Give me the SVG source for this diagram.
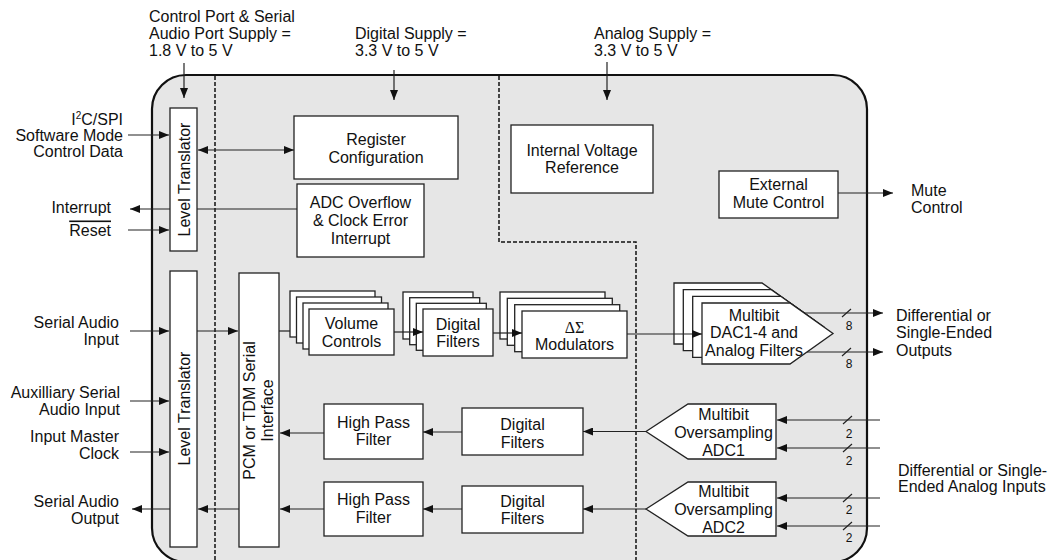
<svg xmlns="http://www.w3.org/2000/svg" xmlns:xlink="http://www.w3.org/1999/xlink" width="1051" height="560" viewBox="0 0 1051 560">
<style>
text{font-family:"Liberation Sans",Arial,sans-serif;font-size:16px;fill:#111}
.m{text-anchor:middle}
.e{text-anchor:end}
.sm{font-size:12px}
.box{fill:#fff;stroke:#222;stroke-width:1.3}
.dash{fill:none;stroke:#111;stroke-width:1.5;stroke-dasharray:4 2}
.c{fill:none;stroke:#222;stroke-width:1.2}
.a{marker-end:url(#ah)}
.d{marker-start:url(#ah);marker-end:url(#ah)}
</style>
<defs>
<marker id="ah" viewBox="0 0 10 8" refX="10" refY="4" markerWidth="10" markerHeight="8" orient="auto-start-reverse" markerUnits="userSpaceOnUse">
<path d="M0,0 L10,4 L0,8 Z" fill="#111"/>
</marker>
<path id="dacp" d="M0,0 H88 L131,30.5 L88,61 H0 Z"/>
</defs>

<g id="chip">
<rect x="152" y="75" width="715" height="487" rx="34" ry="34" fill="#e6e6e6" stroke="#111" stroke-width="2.2"/>
<path class="dash" d="M215,76 V561"/>
<path class="dash" d="M499,76 V242 H636 V561"/>
</g>

<g id="level-translator-top">
<rect class="box" x="170" y="108" width="27" height="143"/>
<text class="m" transform="translate(189.5,179.5) rotate(-90)">Level Translator</text>
</g>
<g id="register-config">
<rect class="box" x="294" y="116" width="164" height="63"/>
<text class="m" x="376" y="145">Register</text>
<text class="m" x="376" y="162.5">Configuration</text>
</g>
<g id="adc-overflow">
<rect class="box" x="297" y="184" width="127" height="73"/>
<text class="m" x="360.5" y="208">ADC Overflow</text>
<text class="m" x="360.5" y="226">&amp; Clock Error</text>
<text class="m" x="360.5" y="244">Interrupt</text>
</g>
<g id="internal-vref">
<rect class="box" x="511" y="125" width="142" height="68"/>
<text class="m" x="582" y="155.5">Internal Voltage</text>
<text class="m" x="582" y="172.5">Reference</text>
</g>
<g id="ext-mute">
<rect class="box" x="719" y="171" width="119" height="47"/>
<text class="m" x="778.5" y="190">External</text>
<text class="m" x="778.5" y="207.5">Mute Control</text>
</g>
<g id="level-translator-bottom">
<rect class="box" x="170" y="271" width="27" height="276"/>
<text class="m" transform="translate(189.5,408.5) rotate(-90)">Level Translator</text>
</g>
<g id="pcm-tdm">
<rect class="box" x="239" y="273" width="40" height="274"/>
<text class="m" transform="translate(255,410.5) rotate(-90)">PCM or TDM Serial</text>
<text class="m" transform="translate(273,410.5) rotate(-90)">Interface</text>
</g>
<g id="volume-controls">
<rect class="box" x="290" y="291" width="85" height="46"/>
<rect class="box" x="296.5" y="297" width="85" height="46"/>
<rect class="box" x="303" y="303" width="85" height="46"/>
<rect class="box" x="309" y="309" width="85" height="46"/>
<text class="m" x="351.5" y="329">Volume</text>
<text class="m" x="351.5" y="346.5">Controls</text>
</g>
<g id="digital-filters-dac">
<rect class="box" x="403" y="292" width="70" height="47"/>
<rect class="box" x="409.7" y="297.7" width="70" height="47"/>
<rect class="box" x="416.3" y="303.3" width="70" height="47"/>
<rect class="box" x="423" y="309" width="70" height="47"/>
<text class="m" x="458" y="329.5">Digital</text>
<text class="m" x="458" y="347">Filters</text>
</g>
<g id="delta-sigma">
<rect class="box" x="500" y="292" width="105" height="47"/>
<rect class="box" x="507.3" y="298.3" width="105" height="47"/>
<rect class="box" x="514.7" y="304.7" width="105" height="47"/>
<rect class="box" x="522" y="311" width="105" height="47"/>
<text class="m" x="574.5" y="333" style="font-family:'Liberation Serif','Times New Roman',serif">ΔΣ</text>
<text class="m" x="574.5" y="349.5">Modulators</text>
</g>
<g id="dac">
<use xlink:href="#dacp" class="box" transform="translate(674,283)"/>
<use xlink:href="#dacp" class="box" transform="translate(683.3,289.7)"/>
<use xlink:href="#dacp" class="box" transform="translate(692.7,296.3)"/>
<use xlink:href="#dacp" class="box" transform="translate(702,303)"/>
<text class="m" x="754" y="320.5">Multibit</text>
<text class="m" x="754" y="338">DAC1-4 and</text>
<text class="m" x="754" y="355.5">Analog Filters</text>
</g>
<g id="hpf1">
<rect class="box" x="324" y="404" width="99" height="55"/>
<text class="m" x="373.5" y="427.5">High Pass</text>
<text class="m" x="373.5" y="445">Filter</text>
</g>
<g id="hpf2">
<rect class="box" x="324" y="482" width="99" height="54"/>
<text class="m" x="373.5" y="505">High Pass</text>
<text class="m" x="373.5" y="522.5">Filter</text>
</g>
<g id="digital-filters-adc1">
<rect class="box" x="462" y="408" width="121" height="47"/>
<text class="m" x="522.5" y="430">Digital</text>
<text class="m" x="522.5" y="447.5">Filters</text>
</g>
<g id="digital-filters-adc2">
<rect class="box" x="462" y="486" width="121" height="47"/>
<text class="m" x="522.5" y="506.5">Digital</text>
<text class="m" x="522.5" y="524">Filters</text>
</g>
<g id="adc1">
<path class="box" d="M646,431.5 L688,404 H776 V459 H688 Z"/>
<text class="m" x="723.5" y="419.5">Multibit</text>
<text class="m" x="723.5" y="437.5">Oversampling</text>
<text class="m" x="723.5" y="455.5">ADC1</text>
</g>
<g id="adc2">
<path class="box" d="M646,509 L688,482 H776 V536 H688 Z"/>
<text class="m" x="723.5" y="497">Multibit</text>
<text class="m" x="723.5" y="515">Oversampling</text>
<text class="m" x="723.5" y="533">ADC2</text>
</g>

<g id="connectors">
<path class="c a" d="M184,63 V98"/>
<path class="c a" d="M394,70 V100"/>
<path class="c a" d="M607,62 V100"/>
<path class="c a" d="M128,135 H169"/>
<path class="c d" d="M198,150 H294"/>
<path class="c" d="M297,209 H197"/>
<path class="c a" d="M170,209 H130"/>
<path class="c a" d="M128,230 H169"/>
<path class="c a" d="M130,331 H169"/>
<path class="c a" d="M197,331 H238"/>
<path class="c" d="M279,331 H290"/>
<path class="c a" d="M130,401 H169"/>
<path class="c a" d="M130,452 H169"/>
<path class="c a" d="M239,509 H198"/>
<path class="c a" d="M170,509 H132"/>
<path class="c a" d="M324,433 H280"/>
<path class="c a" d="M324,509 H280"/>
<path class="c a" d="M462,432 H423"/>
<path class="c a" d="M462,509 H423"/>
<path class="c a" d="M646,431.5 H583"/>
<path class="c a" d="M646,509 H583"/>
<path class="c a" d="M394,332 H423"/>
<path class="c a" d="M493,333 H522"/>
<path class="c a" d="M627,334 H702"/>
<path class="c a" d="M804,313 H883"/>
<path class="c a" d="M807,352 H883"/>
<path class="c a" d="M880,420 H777"/>
<path class="c a" d="M880,448 H777"/>
<path class="c a" d="M880,498 H777"/>
<path class="c a" d="M880,526 H777"/>
<path class="c a" d="M838,193 H893"/>
<path class="c" d="M842,317 L851,309 M842,356 L851,348 M843,424 L852,416 M843,452 L852,444 M843,502 L852,494 M843,530 L852,522"/>
</g>

<g id="labels">
<text x="149" y="21.5">Control Port &amp; Serial</text>
<text x="149" y="38.5">Audio Port Supply =</text>
<text x="149" y="55.5">1.8 V to 5 V</text>
<text x="355" y="38.5">Digital Supply =</text>
<text x="355" y="55.5">3.3 V to 5 V</text>
<text x="594" y="38.5">Analog Supply =</text>
<text x="594" y="55.5">3.3 V to 5 V</text>
<text class="e" x="123" y="124.5">I<tspan font-size="10" dy="-6">2</tspan><tspan dy="6">C/SPI</tspan></text>
<text class="e" x="123" y="141">Software Mode</text>
<text class="e" x="123" y="157">Control Data</text>
<text class="e" x="111" y="213">Interrupt</text>
<text class="e" x="111" y="235.5" style="text-decoration:overline">Reset</text>
<text class="e" x="119" y="327.5">Serial Audio</text>
<text class="e" x="119" y="345">Input</text>
<text class="e" x="120" y="397.5">Auxilliary Serial</text>
<text class="e" x="120" y="414.5">Audio Input</text>
<text class="e" x="119" y="442">Input Master</text>
<text class="e" x="119" y="459">Clock</text>
<text class="e" x="119" y="506.5">Serial Audio</text>
<text class="e" x="119" y="524">Output</text>
<text x="911" y="196">Mute</text>
<text x="911" y="213">Control</text>
<text x="896" y="321">Differential or</text>
<text x="896" y="338">Single-Ended</text>
<text x="896" y="355.5">Outputs</text>
<text x="898" y="475.5">Differential or Single-</text>
<text x="898" y="492">Ended Analog Inputs</text>
<text class="m sm" x="849" y="329.5">8</text>
<text class="m sm" x="849" y="368">8</text>
<text class="m sm" x="849" y="437.5">2</text>
<text class="m sm" x="849" y="465">2</text>
<text class="m sm" x="849" y="513.5">2</text>
<text class="m sm" x="849" y="541.5">2</text>
</g>
</svg>
